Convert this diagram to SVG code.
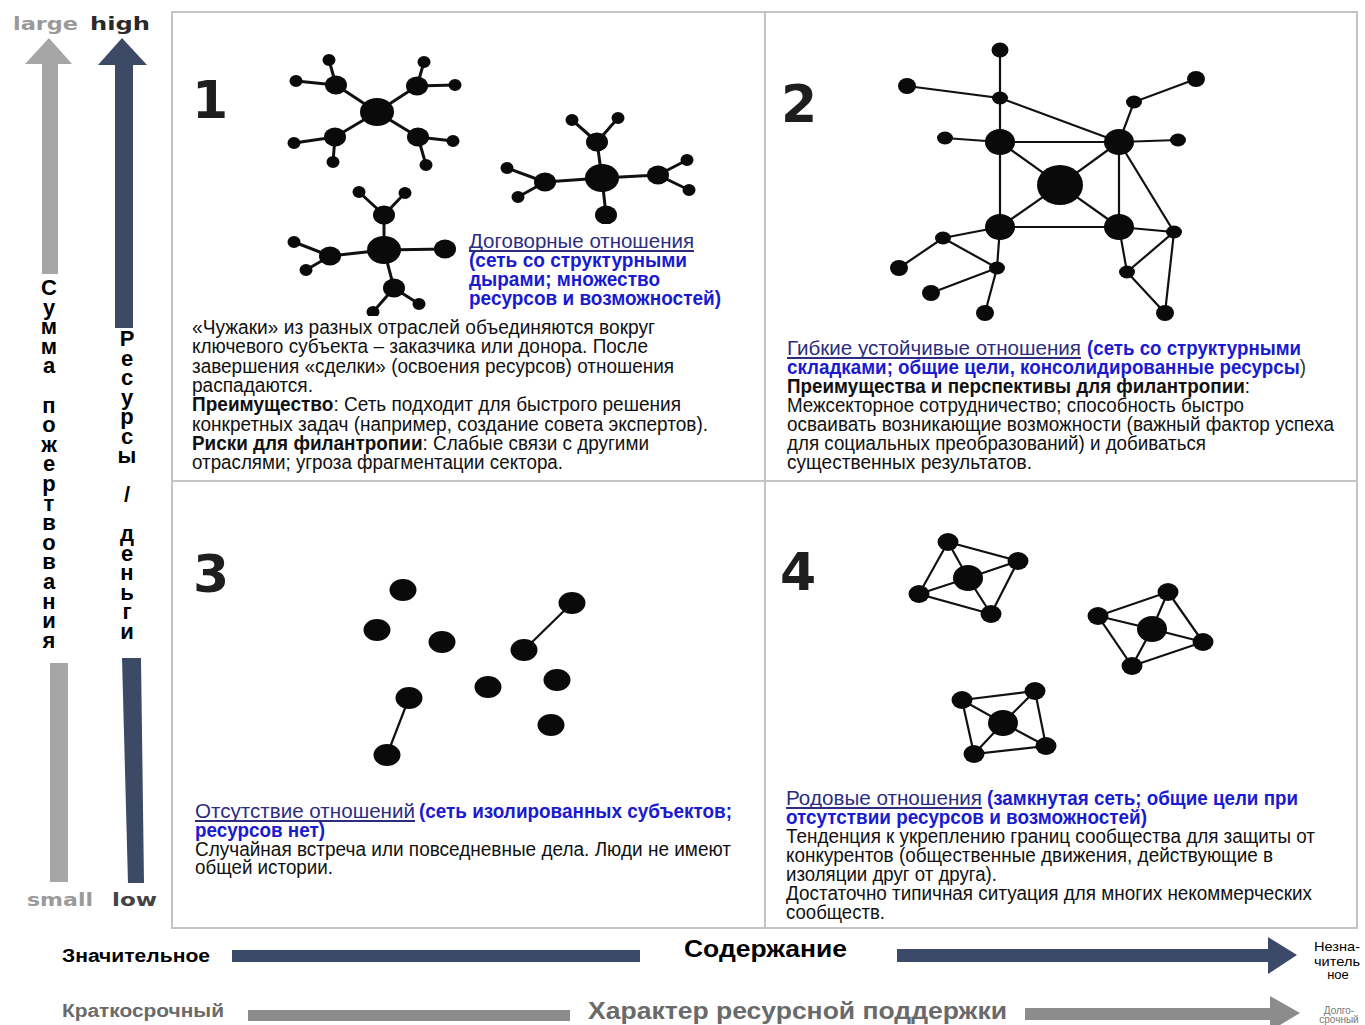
<svg xmlns="http://www.w3.org/2000/svg" width="1365" height="1025" viewBox="0 0 1365 1025">
<style>
.t{font-family:"Liberation Sans",Arial,sans-serif;font-size:20px;fill:#111}
.b{font-weight:bold}
.nav{fill:#2d2d80}
.blu{fill:#1a1ad2;font-weight:bold}
.num{font-family:"DejaVu Sans",sans-serif;font-weight:bold;font-size:52px;fill:#1e1e1e}
.vt{font-family:"Liberation Sans",Arial,sans-serif;font-weight:bold;font-size:22px;fill:#000;text-anchor:middle}
.ax{font-family:"DejaVu Sans",sans-serif;font-weight:bold;font-size:17px}
.bt{font-family:"Liberation Sans",Arial,sans-serif;font-weight:bold}
.e1{stroke:#111;stroke-width:3;fill:none}
.e2{stroke:#111;stroke-width:2.2;fill:none}
.n{fill:#0a0a0a}
.ul{stroke:#2d2d80;stroke-width:1.8}
</style>
<rect width="1365" height="1025" fill="#fff"/>

<!-- frame -->
<g id="frame">
<rect x="172" y="12" width="1185" height="916" fill="#fff" stroke="#c4c4c4" stroke-width="2"/>
<line x1="765" y1="12" x2="765" y2="928" stroke="#c4c4c4" stroke-width="2"/>
<line x1="172" y1="481" x2="1357" y2="481" stroke="#c4c4c4" stroke-width="2"/>
</g>

<!-- vertical axes -->
<g id="axis-donations">
<polygon points="49,38 72,64 25,64" fill="#a6a6a6"/>
<rect x="42" y="63" width="16" height="211" fill="#a6a6a6"/>
<rect x="50" y="663" width="18" height="219" fill="#a6a6a6"/>
<text class="ax" x="13" y="30" fill="#9a9a9a" textLength="65" lengthAdjust="spacingAndGlyphs">large</text>
<text class="ax" x="27" y="906" fill="#9a9a9a" textLength="66" lengthAdjust="spacingAndGlyphs">small</text>
<text class="vt"><tspan x="49" y="295">С</tspan><tspan x="49" y="314.6">у</tspan><tspan x="49" y="334.2">м</tspan><tspan x="49" y="353.8">м</tspan><tspan x="49" y="373.4">а</tspan><tspan x="49" y="412.6">п</tspan><tspan x="49" y="432.2">о</tspan><tspan x="49" y="451.8">ж</tspan><tspan x="49" y="471.4">е</tspan><tspan x="49" y="491">р</tspan><tspan x="49" y="510.6">т</tspan><tspan x="49" y="530.2">в</tspan><tspan x="49" y="549.8">о</tspan><tspan x="49" y="569.4">в</tspan><tspan x="49" y="589">а</tspan><tspan x="49" y="608.6">н</tspan><tspan x="49" y="628.2">и</tspan><tspan x="49" y="647.8">я</tspan></text>
</g>
<g id="axis-resources">
<polygon points="122,38 147,65 98,65" fill="#3c4a66"/>
<rect x="115" y="64" width="18" height="264" fill="#3c4a66"/>
<polygon points="122,658 141,658 144,883 128,883" fill="#3c4a66"/>
<text class="ax" x="90" y="30" fill="#2a2a2a" textLength="60" lengthAdjust="spacingAndGlyphs">high</text>
<text class="ax" x="112" y="906" fill="#444" textLength="45" lengthAdjust="spacingAndGlyphs">low</text>
<text class="vt"><tspan x="127" y="346">Р</tspan><tspan x="127" y="365.5">е</tspan><tspan x="127" y="385">с</tspan><tspan x="127" y="404.5">у</tspan><tspan x="127" y="424">р</tspan><tspan x="127" y="443.5">с</tspan><tspan x="127" y="463">ы</tspan><tspan x="127" y="502">/</tspan><tspan x="127" y="541">д</tspan><tspan x="127" y="560.5">е</tspan><tspan x="127" y="580">н</tspan><tspan x="127" y="599.5">ь</tspan><tspan x="127" y="619">г</tspan><tspan x="127" y="638.5">и</tspan></text>
</g>

<!-- horizontal axes -->
<g id="axis-content">
<rect x="232" y="950" width="408" height="12" fill="#3b4a68"/>
<rect x="897" y="949" width="372" height="13" fill="#3b4a68"/>
<polygon points="1268,937 1297,955 1268,974" fill="#3b4a68"/>
<text class="bt" x="62" y="962" font-size="18" fill="#000" textLength="148" lengthAdjust="spacingAndGlyphs">Значительное</text>
<text class="bt" x="684" y="957" font-size="24" fill="#000" textLength="163" lengthAdjust="spacingAndGlyphs">Содержание</text>
<g font-family="Liberation Sans, Arial, sans-serif" font-size="13" fill="#000" text-anchor="middle">
<text x="1337" y="951" textLength="46" lengthAdjust="spacingAndGlyphs">Незна-</text>
<text x="1337" y="966" textLength="46" lengthAdjust="spacingAndGlyphs">читель</text>
<text x="1338" y="979">ное</text>
</g>
</g>
<g id="axis-support">
<rect x="248" y="1010" width="322" height="11" fill="#8c8c8c"/>
<rect x="1025" y="1008" width="246" height="12" fill="#8c8c8c"/>
<polygon points="1270,996 1300,1013 1270,1031" fill="#8c8c8c"/>
<text class="bt" x="62" y="1017" font-size="18" fill="#6a6a6a" textLength="162" lengthAdjust="spacingAndGlyphs">Краткосрочный</text>
<text class="bt" x="588" y="1019" font-size="24" fill="#6a6a6a" textLength="419" lengthAdjust="spacingAndGlyphs">Характер ресурсной поддержки</text>
<text x="1339" y="1014" font-family="Liberation Sans, Arial, sans-serif" font-size="10" fill="#777" text-anchor="middle">Долго-</text>
<text x="1339" y="1023" font-family="Liberation Sans, Arial, sans-serif" font-size="10" fill="#777" text-anchor="middle">срочный</text>
</g>

<!-- Quadrant 1 -->
<g id="q1">
<text class="num" x="192" y="118">1</text>
<g id="q1-connectors" class="e1">
<path d="M377,112L336,85M336,85L329,60M336,85L296,81M377,112L417,86M417,86L424,62M417,86L455,85M377,112L335,137M335,137L294,143M335,137L333,162M377,112L418,137M418,137L453,141M418,137L426,165"/>
<path d="M602,178L597,142M597,142L572,120M597,142L618,118M602,178L545,182M545,182L507,168M545,182L518,197M602,178L658,175M658,175L687,160M658,175L689,190M602,178L606,215"/>
<path d="M384,250L384,215M384,215L359,192M384,215L405,193M384,250L330,256M330,256L294,242M330,256L306,270M384,250L445,249M384,250L394,288M394,288L419,304M394,288L373,312"/>
</g>
<g id="q1-nodes" class="n">
<ellipse cx="377" cy="112" rx="17" ry="14"/>
<ellipse cx="336" cy="85" rx="11" ry="9.5"/><ellipse cx="417" cy="86" rx="11" ry="9.5"/><ellipse cx="335" cy="137" rx="11" ry="9.5"/><ellipse cx="418" cy="137" rx="11" ry="9.5"/>
<ellipse cx="329" cy="60" rx="6.5" ry="6"/><ellipse cx="296" cy="81" rx="6.5" ry="6"/><ellipse cx="424" cy="62" rx="6.5" ry="6"/><ellipse cx="455" cy="85" rx="6.5" ry="6"/><ellipse cx="294" cy="143" rx="6.5" ry="6"/><ellipse cx="333" cy="162" rx="6.5" ry="6"/><ellipse cx="453" cy="141" rx="6.5" ry="6"/><ellipse cx="426" cy="165" rx="6.5" ry="6"/>
<ellipse cx="602" cy="178" rx="17" ry="14"/>
<ellipse cx="597" cy="142" rx="11" ry="9.5"/><ellipse cx="545" cy="182" rx="11" ry="9.5"/><ellipse cx="658" cy="175" rx="11" ry="9.5"/><ellipse cx="606" cy="215" rx="11" ry="9.5"/>
<ellipse cx="572" cy="120" rx="6.5" ry="6"/><ellipse cx="618" cy="118" rx="6.5" ry="6"/><ellipse cx="507" cy="168" rx="6.5" ry="6"/><ellipse cx="518" cy="197" rx="6.5" ry="6"/><ellipse cx="687" cy="160" rx="6.5" ry="6"/><ellipse cx="689" cy="190" rx="6.5" ry="6"/>
<ellipse cx="384" cy="250" rx="17" ry="14"/>
<ellipse cx="384" cy="215" rx="11" ry="9.5"/><ellipse cx="330" cy="256" rx="11" ry="9.5"/><ellipse cx="445" cy="249" rx="11" ry="9.5"/><ellipse cx="394" cy="288" rx="11" ry="9.5"/>
<ellipse cx="359" cy="192" rx="6.5" ry="6"/><ellipse cx="405" cy="193" rx="6.5" ry="6"/><ellipse cx="294" cy="242" rx="6.5" ry="6"/><ellipse cx="306" cy="270" rx="6.5" ry="6"/><ellipse cx="419" cy="304" rx="6.5" ry="6"/><ellipse cx="373" cy="312" rx="6.5" ry="6"/>
</g>
<rect x="456" y="224" width="308" height="92" fill="#fff"/>
<rect x="174" y="316" width="590" height="164" fill="#fff"/>
<text class="t nav" x="469" y="248" textLength="225" lengthAdjust="spacingAndGlyphs">Договорные отношения</text>
<line class="ul" x1="469" y1="251" x2="694" y2="251"/>
<text class="t blu" x="469" y="267" textLength="218" lengthAdjust="spacingAndGlyphs">(сеть со структурными</text>
<text class="t blu" x="469" y="286" textLength="191" lengthAdjust="spacingAndGlyphs">дырами; множество</text>
<text class="t blu" x="469" y="305" textLength="252" lengthAdjust="spacingAndGlyphs">ресурсов и возможностей)</text>
<text class="t" x="192" y="334" textLength="463" lengthAdjust="spacingAndGlyphs">«Чужаки» из разных отраслей объединяются вокруг</text>
<text class="t" x="192" y="353" textLength="456" lengthAdjust="spacingAndGlyphs">ключевого субъекта – заказчика или донора. После</text>
<text class="t" x="192" y="373" textLength="482" lengthAdjust="spacingAndGlyphs">завершения «сделки» (освоения ресурсов) отношения</text>
<text class="t" x="192" y="392" textLength="121" lengthAdjust="spacingAndGlyphs">распадаются.</text>
<text class="t" x="192" y="411" textLength="489" lengthAdjust="spacingAndGlyphs"><tspan class="b">Преимущество</tspan>: Сеть подходит для быстрого решения</text>
<text class="t" x="192" y="431" textLength="516" lengthAdjust="spacingAndGlyphs">конкретных задач (например, создание совета экспертов).</text>
<text class="t" x="192" y="450" textLength="457" lengthAdjust="spacingAndGlyphs"><tspan class="b">Риски для филантропии</tspan>: Слабые связи с другими</text>
<text class="t" x="192" y="469" textLength="371" lengthAdjust="spacingAndGlyphs">отраслями; угроза фрагментации сектора.</text>
</g>

<!-- Quadrant 2 -->
<g id="q2">
<text class="num" x="781" y="122">2</text>
<g id="q2-connectors" class="e2">
<path d="M1000,50L1000,98L907,86M1000,98L1119,142M1000,98L1000,142M1196,79L1134,102L1119,142M945,138L1000,142L1119,142L1178,140M1000,142L1060,185L1119,142M1000,227L1060,185L1119,227M1000,142L1000,227L1119,227L1119,142M1119,142L1174,232L1119,227M1119,227L1127,272L1174,232L1165,313L1127,272M1000,227L943,238L899,268M943,238L997,268L1000,227M997,268L931,293M997,268L985,313"/>
</g>
<g id="q2-nodes" class="n">
<ellipse cx="1060" cy="185" rx="23" ry="20"/>
<ellipse cx="1000" cy="142" rx="15" ry="13"/><ellipse cx="1119" cy="142" rx="15" ry="13"/><ellipse cx="1000" cy="227" rx="15" ry="13"/><ellipse cx="1119" cy="227" rx="15" ry="13"/>
<ellipse cx="1000" cy="50" rx="8.5" ry="7.5"/><ellipse cx="907" cy="86" rx="9" ry="8"/><ellipse cx="1196" cy="79" rx="9" ry="8"/><ellipse cx="899" cy="268" rx="9" ry="8"/><ellipse cx="931" cy="293" rx="9" ry="8"/><ellipse cx="985" cy="313" rx="9" ry="8"/><ellipse cx="1165" cy="313" rx="9" ry="8"/>
<ellipse cx="1000" cy="98" rx="8" ry="6.5"/><ellipse cx="1134" cy="102" rx="8" ry="6.5"/><ellipse cx="945" cy="138" rx="8" ry="6.5"/><ellipse cx="1178" cy="140" rx="8" ry="6.5"/><ellipse cx="1174" cy="232" rx="8" ry="6.5"/><ellipse cx="943" cy="238" rx="8" ry="6.5"/><ellipse cx="997" cy="268" rx="8" ry="6.5"/><ellipse cx="1127" cy="272" rx="8" ry="6.5"/>
</g>
<text class="t nav" x="787" y="355" textLength="294" lengthAdjust="spacingAndGlyphs">Гибкие устойчивые отношения</text>
<line class="ul" x1="787" y1="358" x2="1081" y2="358"/>
<text class="t blu" x="1087" y="355" textLength="214" lengthAdjust="spacingAndGlyphs">(сеть со структурными</text>
<text class="t blu" x="787" y="374" textLength="519" lengthAdjust="spacingAndGlyphs">складками; общие цели, консолидированные ресурсы<tspan fill="#333" font-weight="normal">)</tspan></text>
<text class="t" x="787" y="393" textLength="463" lengthAdjust="spacingAndGlyphs"><tspan class="b">Преимущества и перспективы для филантропии</tspan>:</text>
<text class="t" x="787" y="412" textLength="457" lengthAdjust="spacingAndGlyphs">Межсекторное сотрудничество; способность быстро</text>
<text class="t" x="787" y="431" textLength="547" lengthAdjust="spacingAndGlyphs">осваивать возникающие возможности (важный фактор успеха</text>
<text class="t" x="787" y="450" textLength="419" lengthAdjust="spacingAndGlyphs">для социальных преобразований) и добиваться</text>
<text class="t" x="787" y="469" textLength="245" lengthAdjust="spacingAndGlyphs">существенных результатов.</text>
</g>

<!-- Quadrant 3 -->
<g id="q3">
<text class="num" x="193" y="592">3</text>
<g id="q3-connectors" class="e2">
<path d="M572,603L524,650M409,698L387,755"/>
</g>
<g id="q3-nodes" class="n">
<ellipse cx="403" cy="590" rx="13.5" ry="11"/><ellipse cx="377" cy="630" rx="13.5" ry="11"/><ellipse cx="442" cy="642" rx="13.5" ry="11"/><ellipse cx="572" cy="603" rx="13.5" ry="11"/><ellipse cx="524" cy="650" rx="13.5" ry="11"/><ellipse cx="488" cy="687" rx="13.5" ry="11"/><ellipse cx="557" cy="680" rx="13.5" ry="11"/><ellipse cx="409" cy="698" rx="13.5" ry="11"/><ellipse cx="551" cy="725" rx="13.5" ry="11"/><ellipse cx="387" cy="755" rx="13.5" ry="11"/>
</g>
<text class="t nav" x="195" y="818" textLength="220" lengthAdjust="spacingAndGlyphs">Отсутствие отношений</text>
<line class="ul" x1="195" y1="821" x2="415" y2="821"/>
<text class="t blu" x="419" y="818" textLength="313" lengthAdjust="spacingAndGlyphs">(сеть изолированных субъектов;</text>
<text class="t blu" x="195" y="837" textLength="130" lengthAdjust="spacingAndGlyphs">ресурсов нет)</text>
<text class="t" x="195" y="856" textLength="536" lengthAdjust="spacingAndGlyphs">Случайная встреча или повседневные дела. Люди не имеют</text>
<text class="t" x="195" y="874" textLength="138" lengthAdjust="spacingAndGlyphs">общей истории.</text>
</g>

<!-- Quadrant 4 -->
<g id="q4">
<text class="num" x="780" y="590">4</text>
<g id="q4-connectors" class="e2">
<path d="M948,542L1018,561L991,614L919,594ZM948,542L968,578L1018,561M991,614L968,578L919,594"/>
<path d="M1168,592L1203,642L1132,666L1098,616ZM1168,592L1152,629L1203,642M1132,666L1152,629L1098,616"/>
<path d="M962,700L1035,691L1046,746L974,754ZM962,700L1003,723L1035,691M1046,746L1003,723L974,754"/>
</g>
<g id="q4-nodes" class="n">
<ellipse cx="968" cy="578" rx="15" ry="13"/><ellipse cx="948" cy="542" rx="10.5" ry="9"/><ellipse cx="1018" cy="561" rx="10.5" ry="9"/><ellipse cx="991" cy="614" rx="10.5" ry="9"/><ellipse cx="919" cy="594" rx="10.5" ry="9"/>
<ellipse cx="1152" cy="629" rx="15" ry="13"/><ellipse cx="1168" cy="592" rx="10.5" ry="9"/><ellipse cx="1203" cy="642" rx="10.5" ry="9"/><ellipse cx="1132" cy="666" rx="10.5" ry="9"/><ellipse cx="1098" cy="616" rx="10.5" ry="9"/>
<ellipse cx="1003" cy="723" rx="15" ry="13"/><ellipse cx="962" cy="700" rx="10.5" ry="9"/><ellipse cx="1035" cy="691" rx="10.5" ry="9"/><ellipse cx="1046" cy="746" rx="10.5" ry="9"/><ellipse cx="974" cy="754" rx="10.5" ry="9"/>
</g>
<text class="t nav" x="786" y="805" textLength="196" lengthAdjust="spacingAndGlyphs">Родовые отношения</text>
<line class="ul" x1="786" y1="808" x2="982" y2="808"/>
<text class="t blu" x="987" y="805" textLength="311" lengthAdjust="spacingAndGlyphs">(замкнутая сеть; общие цели при</text>
<text class="t blu" x="786" y="824" textLength="361" lengthAdjust="spacingAndGlyphs">отсутствии ресурсов и возможностей)</text>
<text class="t" x="786" y="843" textLength="529" lengthAdjust="spacingAndGlyphs">Тенденция к укреплению границ сообщества для защиты от</text>
<text class="t" x="786" y="862" textLength="487" lengthAdjust="spacingAndGlyphs">конкурентов (общественные движения, действующие в</text>
<text class="t" x="786" y="881" textLength="211" lengthAdjust="spacingAndGlyphs">изоляции друг от друга).</text>
<text class="t" x="786" y="900" textLength="526" lengthAdjust="spacingAndGlyphs">Достаточно типичная ситуация для многих некоммерческих</text>
<text class="t" x="786" y="919" textLength="99" lengthAdjust="spacingAndGlyphs">сообществ.</text>
</g>
</svg>
